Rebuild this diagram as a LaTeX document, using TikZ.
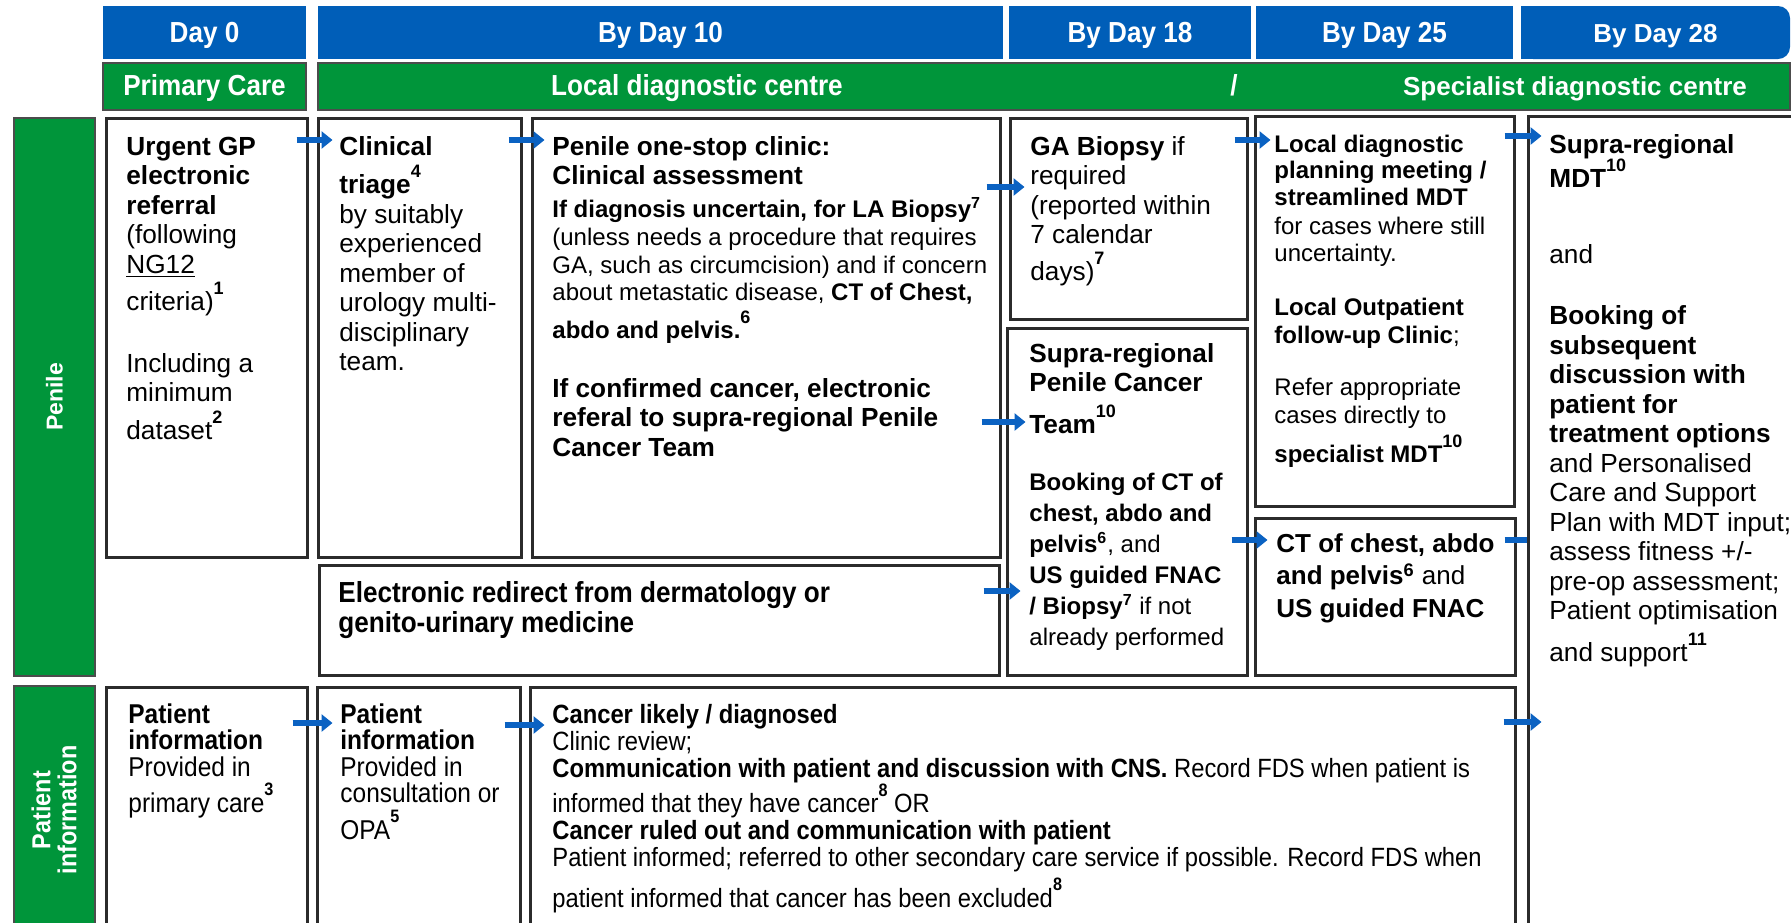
\documentclass[tikz,border=0pt]{standalone}
\usepackage{fontspec}
\setmainfont{Liberation Sans}
\newfontfamily\narrowfont[FakeStretch=0.9]{Liberation Sans}
\usepackage{xcolor}
\usetikzlibrary{
  arrows.meta,
  positioning,
  calc,
  fit
}
\definecolor{dayblue}{HTML}{005EB8}
\definecolor{sitegreen}{HTML}{00953A}
\definecolor{flowblue}{HTML}{0B62C2}
\definecolor{edge}{HTML}{2B2B2B}
\newcommand{\bodyfont}{\fontsize{13.1}{14.75}\selectfont}
\newcommand{\smallfont}{\fontsize{12}{13.9}\selectfont}
\newcommand{\narrowsize}[2]{\narrowfont\fontsize{#1}{#2}\selectfont}
% fixed first-line height, so a text node's top sits 11pt above its first baseline
\newcommand{\topstrut}{\rule{0pt}{11pt}}
% raised reference numbers (no effect on line spacing)
\newcommand{\refno}[1]{\smash{\raisebox{0.62em}{\fontsize{9}{9}\selectfont\bfseries #1}}}

\begin{document}
\begin{tikzpicture}[
  x=0.5pt, y=-0.5pt,
  panel/.style={draw=edge, line width=1.5pt, inner sep=0pt},
  dayhead/.style={fill=dayblue, inner sep=0pt},
  daytxt/.style={text=white, inner sep=0pt, anchor=base,
                 font=\narrowsize{14.5}{15}\bfseries},
  site/.style={fill=sitegreen, draw=black!70, line width=0.6pt, inner sep=0pt},
  sitetxt/.style={text=white, inner sep=0pt, anchor=base,
                  font=\narrowsize{14.5}{15}\bfseries},
  lane/.style={fill=sitegreen, draw=black!70, line width=0.6pt, inner sep=0pt},
  lanetxt/.style={text=white, rotate=90, align=center, inner sep=0pt},
  txt/.style={anchor=north west, align=left, inner sep=0pt},
  flow/.style={draw=flowblue, line width=3pt, -{Triangle[length=5.5pt,width=8.5pt]}},
  stub/.style={draw=flowblue, line width=3pt},
]
  \useasboundingbox (0,0) rectangle (1791,922);
  \fill[white] (0,0) rectangle (1791,922);

  % Day headers
  \node[dayhead, fit={(103,6) (306,59)}] (d0) {};
  \node[dayhead, fit={(318,6) (1003,59)}] (d10) {};
  \node[dayhead, fit={(1009,6) (1251,59)}] (d18) {};
  \node[dayhead, fit={(1256,6) (1513,59)}] (d25) {};
  \fill[dayblue] (1521,6) rectangle (1600,59);
  \node[dayhead, rounded corners=6pt, fit={(1521,6) (1790,59)}] (d28) {};
  \node[daytxt] (d0-t) at (d0.center |- 0,42) {Day 0};
  \node[daytxt] (d10-t) at (d10.center |- 0,42) {By Day 10};
  \node[daytxt] (d18-t) at (d18.center |- 0,42) {By Day 18};
  \node[daytxt] (d25-t) at (d25.center |- 0,42) {By Day 25};
  \node[daytxt, font=\fontsize{13}{14}\selectfont\bfseries] (d28-t)
    at (d28.center |- 0,42) {By Day 28};

  % Care setting bar
  \node[site, fit={(103,63) (306,110)}] (pc) {};
  \node[site, fit={(318,63) (1790,110)}] (ldc) {};
  \node[sitetxt] (pc-t) at (pc.center |- 0,95) {Primary Care};
  \node[sitetxt] (ldc-local) at (697,95) {Local diagnostic centre};
  \node[sitetxt] (ldc-or) at (1234,95) {/};
  \node[sitetxt, font=\fontsize{13}{14}\selectfont\bfseries] (ldc-spec)
    at (1575,95) {Specialist diagnostic centre};

  % Swim lanes
  \node[lane, fit={(14,118) (95,676)}] (penile) {};
  \node[lanetxt, font=\fontsize{11.5}{12}\selectfont\bfseries] (penile-t)
    at (penile.center) {Penile};
  \node[lane, fit={(14,686) (95,935)}] (patinfo) {};
  \node[lanetxt, font=\narrowsize{13}{13}\bfseries] (patinfo-t)
    at (54,810) {Patient\\information};

  % Penile pathway boxes
  \node[panel, fit={(106,118) (307,557)}] (gp) {};
  \node[panel, fit={(318,118) (521,557)}] (triage) {};
  \node[panel, fit={(532,118) (1000,557)}] (clinic) {};
  \node[panel, fit={(1010,118) (1247,319)}] (gabx) {};
  \node[panel, fit={(1007,328) (1247,675)}] (ptc) {};
  \node[panel, fit={(1255,116) (1514,506)}] (ldmdt) {};
  \node[panel, fit={(1255,518) (1515,675)}] (ctcap) {};
  \node[panel, fit={(1528,116) (1800,935)}] (srmdt) {};
  \node[panel, fit={(319,565) (999,675)}] (redirect) {};

  % Patient information boxes
  \node[panel, fit={(106,687) (307,935)}] (pi-gp) {};
  \node[panel, fit={(317,687) (520,935)}] (pi-opa) {};
  \node[panel, fit={(530,687) (1515,935)}] (outcome) {};

  % Box texts
  \node[txt, font=\bodyfont] (gp-t) at (126,133)
    {\topstrut\textbf{Urgent GP}\\ \textbf{electronic}\\ \textbf{referral}\\ (following\\
     \underline{NG12}\\[4pt] criteria)\refno{1}\\[16pt] Including a\\ minimum\\[4pt]
     dataset\refno{2}};
  \node[txt, font=\bodyfont] (triage-t) at (339,133)
    {\topstrut\textbf{Clinical}\\[4.5pt] \textbf{triage}\refno{4}\\ by suitably\\ experienced\\
     member of\\ urology multi-\\ disciplinary\\ team.};
  \node[txt, font=\bodyfont] (clinic-t) at (552,133)
    {\topstrut\textbf{Penile one-stop clinic:}\\ \textbf{Clinical assessment}};
  \node[txt, font=\smallfont] (clinic-ga) at (552,195)
    {\topstrut\textbf{If diagnosis uncertain, for LA Biopsy\textsuperscript{7}}\\
     (unless needs a procedure that requires\\
     GA, such as circumcision) and if concern\\
     about metastatic disease, \textbf{CT of Chest,}\\[5pt]
     \textbf{abdo and pelvis.}\refno{6}};
  \node[txt, font=\bodyfont] (clinic-refer) at (552,375)
    {\topstrut\textbf{If confirmed cancer, electronic}\\
     \textbf{referal to supra-regional Penile}\\ \textbf{Cancer Team}};
  \node[txt, font=\bodyfont] (gabx-t) at (1030,133)
    {\topstrut\textbf{GA Biopsy} if\\ required\\ (reported within\\ 7 calendar\\[3.5pt] days)\refno{7}};
  \node[txt, font=\bodyfont] (ptc-t) at (1029,340)
    {\topstrut\textbf{Supra-regional}\\ \textbf{Penile Cancer}\\[6pt] \textbf{Team}\refno{10}};
  \node[txt, font=\fontsize{12}{15.5}\selectfont] (ptc-book) at (1029,468)
    {\topstrut\textbf{Booking of CT of}\\ \textbf{chest, abdo and}\\ \textbf{pelvis\textsuperscript{6}}, and\\
     \textbf{US guided FNAC}\\ \textbf{/ Biopsy\textsuperscript{7}} if not\\ already performed};
  \node[txt, font=\fontsize{12}{13.25}\selectfont] (ldmdt-t) at (1274,130)
    {\topstrut\textbf{Local diagnostic}\\ \textbf{planning meeting /}\\ \textbf{streamlined MDT}\\[1.5pt]
     for cases where still\\ uncertainty.};
  \node[txt, font=\smallfont] (ldmdt-opc) at (1274,293)
    {\topstrut\textbf{Local Outpatient}\\ \textbf{follow-up Clinic};};
  \node[txt, font=\smallfont] (ldmdt-refer) at (1274,373)
    {\topstrut Refer appropriate\\ cases directly to\\[5.5pt] \textbf{specialist MDT}\refno{10}};
  \node[txt, font=\fontsize{13}{16.25}\selectfont] (ctcap-t) at (1276,530)
    {\topstrut\textbf{CT of chest, abdo}\\ \textbf{and pelvis\textsuperscript{6}} and\\ \textbf{US guided FNAC}};
  \node[txt, font=\bodyfont] (srmdt-t) at (1549,131)
    {\topstrut\textbf{Supra-regional}\\[2.5pt] \textbf{MDT}\refno{10}\\[23pt] and\\[16pt]
     \textbf{Booking of}\\ \textbf{subsequent}\\ \textbf{discussion with}\\ \textbf{patient for}\\
     \textbf{treatment options}\\ and Personalised\\ Care and Support\\ Plan with MDT input;\\
     assess fitness +/-\\ pre-op assessment;\\ Patient optimisation\\[6pt] and support\refno{11}};
  \node[txt, font=\narrowsize{14.5}{15}\bfseries] (redirect-t) at (338,580)
    {\topstrut Electronic redirect from dermatology or\\ genito-urinary medicine};
  \node[txt, font=\narrowsize{13.6}{13.2}] (pi-gp-t) at (128,701)
    {\topstrut\textbf{Patient}\\ \textbf{information}\\ Provided in\\[5pt] primary care\refno{3}};
  \node[txt, font=\narrowsize{13.6}{13.2}] (pi-opa-t) at (340,701)
    {\topstrut\textbf{Patient}\\ \textbf{information}\\ Provided in\\ consultation or\\[5pt] OPA\refno{5}};
  \node[txt, font=\narrowsize{13.2}{13.4}] (outcome-t) at (552,701)
    {\topstrut\textbf{Cancer likely / diagnosed}\\ Clinic review;\\
     \textbf{Communication with patient and discussion with CNS.} Record FDS when patient is\\[4.5pt]
     informed that they have cancer\refno{8} OR\\
     \textbf{Cancer ruled out and communication with patient}\\
     Patient informed; referred to other secondary care service if possible. Record FDS when\\[7pt]
     patient informed that cancer has been excluded\refno{8}};

  % Flow arrows
  \draw[flow] ($(gp.east |- 0,140)+(-12,0)$) -- ($(triage.west |- 0,140)+(16,0)$);
  \draw[flow] ($(triage.east |- 0,140)+(-14,0)$) -- ($(clinic.west |- 0,140)+(14,0)$);
  \draw[flow] ($(clinic.east |- 0,187)+(-15,0)$) -- ($(gabx.west |- 0,187)+(16,0)$);
  \draw[flow] ($(clinic.east |- 0,422)+(-20,0)$) -- ($(ptc.west |- 0,422)+(20,0)$);
  \draw[flow] ($(redirect.east |- 0,591)+(-17,0)$) -- ($(ptc.west |- 0,591)+(15,0)$);
  \draw[flow] ($(gabx.east |- 0,140)+(-14,0)$) -- ($(ldmdt.west |- 0,140)+(17,0)$);
  \draw[flow] ($(ptc.east |- 0,540)+(-17,0)$) -- ($(ctcap.west |- 0,540)+(14,0)$);
  \draw[flow] ($(ldmdt.east |- 0,136)+(-11,0)$) -- ($(srmdt.west |- 0,136)+(15,0)$);
  \draw[stub] ($(ctcap.east |- 0,540)+(-12,0)$) -- (srmdt.west |- 0,540);
  \draw[flow] ($(pi-gp.east |- 0,723)+(-16,0)$) -- ($(pi-opa.west |- 0,723)+(17,0)$);
  \draw[flow] ($(pi-opa.east |- 0,725)+(-17,0)$) -- ($(outcome.west |- 0,725)+(16,0)$);
  \draw[flow] ($(outcome.east |- 0,722)+(-13,0)$) -- ($(srmdt.west |- 0,722)+(15,0)$);

\end{tikzpicture}
\end{document}
